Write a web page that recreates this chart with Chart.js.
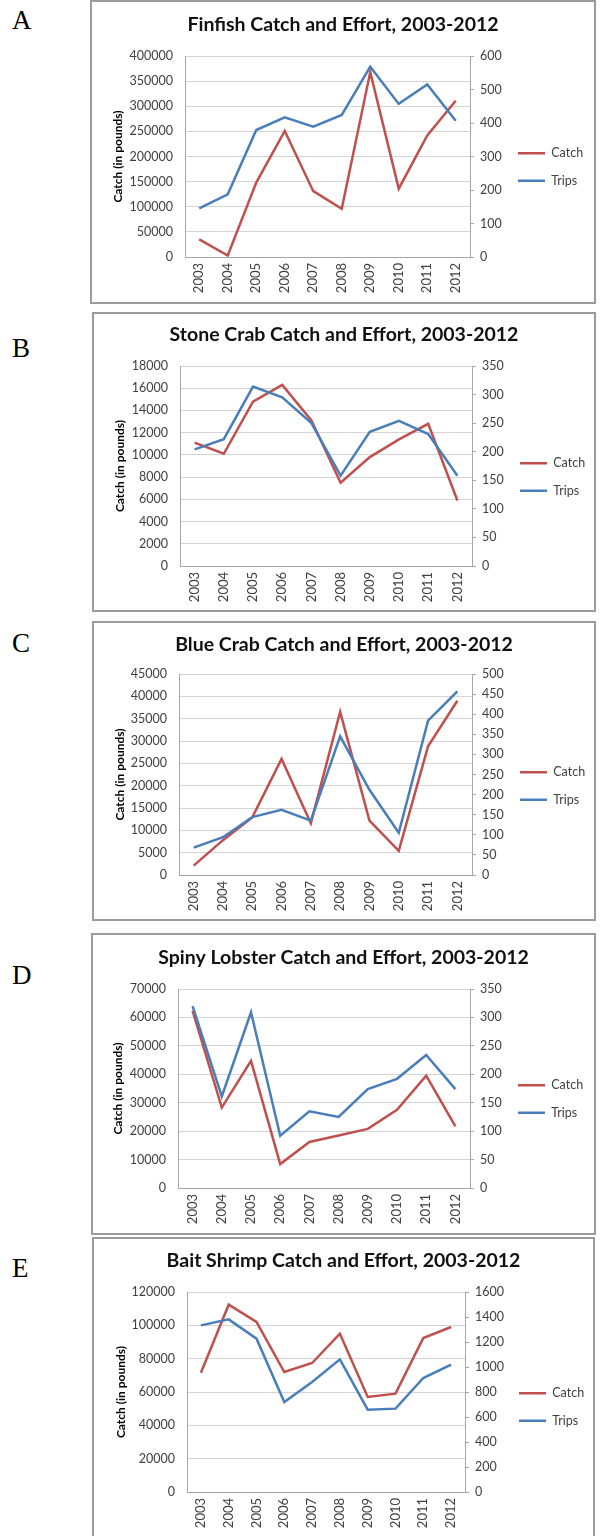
<!DOCTYPE html>
<html>
<head>
<meta charset="utf-8">
<script src="https://cdn.jsdelivr.net/npm/chart.js@4"></script>
<style>
  html, body { margin: 0; padding: 0; background: #fff; }
  body { position: relative; width: 600px; height: 1536px; overflow: hidden; }
  .panel { position: absolute; box-sizing: border-box; border: 2px solid #9c9c9c; background: #fff; }
  .panel canvas { display: block; }
  .letter { position: absolute; font-family: "Liberation Serif", serif; font-size: 27px; line-height: 27px; color: #000; }
</style>
</head>
<body>
<script>
const YEARS = ["2003", "2004", "2005", "2006", "2007", "2008", "2009", "2010", "2011", "2012"];

const finfishCatch = [35000, 3000, 148000, 251000, 131000, 96000, 368000, 136000, 242000, 311000];
const finfishTrips = [145, 187, 379, 417, 389, 424, 568, 457, 515, 407];

const stoneCatch = [11100, 10100, 14800, 16300, 13100, 7500, 9800, 11400, 12800, 5900];
const stoneTrips = [204, 222, 314, 295, 250, 158, 235, 254, 231, 158];

const blueCatch = [2100, 7800, 12900, 26000, 11600, 36500, 12200, 5400, 28800, 39000];
const blueTrips = [68, 94, 144, 162, 135, 345, 212, 105, 384, 457];

const lobsterCatch = [62300, 28300, 44700, 8400, 16200, 18500, 20800, 27500, 39500, 21700];
const lobsterTrips = [320, 161, 309, 92, 135, 125, 174, 192, 234, 174];

const shrimpCatch = [71600, 112400, 102000, 72000, 77400, 95000, 57000, 59000, 92400, 99000];
const shrimpTrips = [1333, 1381, 1227, 720, 880, 1061, 659, 667, 912, 1019];

const TITLES = [
  "Finfish Catch and Effort, 2003-2012",
  "Stone Crab Catch and Effort, 2003-2012",
  "Blue Crab Catch and Effort, 2003-2012",
  "Spiny Lobster Catch and Effort, 2003-2012",
  "Bait Shrimp Catch and Effort, 2003-2012"
];
const LETTERS = ["A", "B", "C", "D", "E"];
const CATCH = [finfishCatch, stoneCatch, blueCatch, lobsterCatch, shrimpCatch];
const TRIPS = [finfishTrips, stoneTrips, blueTrips, lobsterTrips, shrimpTrips];

// axis ticks: max and step of left (catch) and right (trips) axes
const CATCH_MAX = [400000, 18000, 45000, 70000, 120000];
const CATCH_STEP = [50000, 2000, 5000, 10000, 20000];
const TRIPS_MAX = [600, 350, 500, 350, 1600];
const TRIPS_STEP = [100, 50, 50, 50, 200];

// page geometry (px): box = [x, y, w, h], plot = [left, top, right, bottom]
const LAYOUT = [
  { box: [90, 0, 506, 304],   plot: [185, 56, 470, 257],   titleY: 25,   legendX: 518, yTitleX: 118, letterY: 7 },
  { box: [92, 312, 504, 300], plot: [180, 366, 472, 566],  titleY: 335,  legendX: 520, yTitleX: 120, letterY: 335 },
  { box: [92, 621, 504, 300], plot: [179, 674, 472, 875],  titleY: 645,  legendX: 520, yTitleX: 120, letterY: 630 },
  { box: [91, 933, 505, 302], plot: [178, 989, 470, 1188], titleY: 958,  legendX: 518, yTitleX: 118, letterY: 962 },
  { box: [92, 1237, 503, 310], plot: [187, 1292, 465, 1492], titleY: 1261, legendX: 519, yTitleX: 121, letterY: 1255 }
];

const BORDER = 2;
const FONT = "Lato, 'Open Sans', sans-serif";
const RED = "#c0504d";
const BLUE = "#4a7ebb";
const LEG_PAD = 15;
const TITLE_SIZE = 19.5;

function makePanel(i) {
  const g = LAYOUT[i];
  const [bx, by, bw, bh] = g.box;
  const ox = bx + BORDER, oy = by + BORDER;
  const W = bw - 2 * BORDER, H = bh - 2 * BORDER;
  const [px1, py1, px2, py2] = g.plot;
  const pad = 4;

  const letter = document.createElement("div");
  letter.className = "letter";
  letter.style.left = "12px";
  letter.style.top = g.letterY + "px";
  letter.textContent = LETTERS[i];
  document.body.appendChild(letter);

  const div = document.createElement("div");
  div.className = "panel";
  div.style.left = bx + "px";
  div.style.top = by + "px";
  div.style.width = bw + "px";
  div.style.height = bh + "px";
  const canvas = document.createElement("canvas");
  canvas.width = W;
  canvas.height = H;
  div.appendChild(canvas);
  document.body.appendChild(div);

  const legendLeft = g.legendX - ox - LEG_PAD;
  const legendW = W - pad - legendLeft;
  const leftW = (px1 - ox) - pad;
  const rightW = legendLeft - (px2 - ox);
  const xH = H - (py2 - oy);
  const tLine = TITLE_SIZE * 1.2;
  const titleTop = (g.titleY - oy) - tLine / 2;
  const titleBottom = (py1 - oy) - tLine - titleTop;

  new Chart(canvas, {
    type: "line",
    data: {
      labels: YEARS,
      datasets: [
        { label: "Catch", data: CATCH[i], yAxisID: "y", borderColor: RED, backgroundColor: RED,
          borderWidth: 2.5, pointRadius: 0, tension: 0, order: 1 },
        { label: "Trips", data: TRIPS[i], yAxisID: "y1", borderColor: BLUE, backgroundColor: BLUE,
          borderWidth: 2.5, pointRadius: 0, tension: 0, order: 0 }
      ]
    },
    options: {
      responsive: false,
      animation: false,
      devicePixelRatio: 1,
      layout: { padding: { left: pad, right: pad, top: 0, bottom: 0 } },
      plugins: {
        title: {
          display: true, text: TITLES[i], color: "#111",
          font: { family: FONT, size: TITLE_SIZE, weight: "bold", lineHeight: 1.2 },
          padding: { top: titleTop, bottom: titleBottom }
        },
        legend: {
          position: "right",
          maxWidth: legendW,
          title: { display: true, text: "", font: { size: 12, lineHeight: 1.2 }, padding: { top: 0, bottom: 30 - 14.4 } },
          labels: {
            usePointStyle: true, pointStyle: "line", pointStyleWidth: 27,
            padding: LEG_PAD, color: "#404040",
            font: { family: FONT, size: 12.5 },
            sort: (a, b) => a.datasetIndex - b.datasetIndex
          }
        },
        tooltip: { enabled: false }
      },
      scales: {
        x: {
          offset: true,
          grid: { display: false, drawTicks: false },
          border: { color: "#a6a6a6" },
          ticks: { minRotation: 90, maxRotation: 90, padding: 6, color: "#404040", font: { family: FONT, size: 13 } },
          afterFit: s => { s.height = xH; }
        },
        y: {
          position: "left",
          min: 0, max: CATCH_MAX[i],
          grid: { color: "#d4d4d4", drawTicks: false },
          border: { color: "#a6a6a6" },
          ticks: { stepSize: CATCH_STEP[i], padding: 12, color: "#404040", font: { family: FONT, size: 12.5 },
                   callback: v => String(v) },
          title: { display: true, text: "Catch (in pounds)", color: "#000",
                   font: { family: FONT, size: 12, weight: "bold", lineHeight: 1.2 },
                   padding: { top: g.yTitleX - (ox + pad) - 7.2, bottom: 0 } },
          afterFit: s => { s.width = leftW; }
        },
        y1: {
          position: "right",
          min: 0, max: TRIPS_MAX[i],
          grid: { drawOnChartArea: false, drawTicks: true, tickLength: 4, color: "#a6a6a6" },
          border: { color: "#a6a6a6" },
          ticks: { stepSize: TRIPS_STEP[i], padding: 6, color: "#404040", font: { family: FONT, size: 12.5 },
                   callback: v => String(v) },
          afterFit: s => { s.width = rightW; }
        }
      }
    }
  });
}

for (let i = 0; i < LAYOUT.length; i++) makePanel(i);
</script>
</body>
</html>
